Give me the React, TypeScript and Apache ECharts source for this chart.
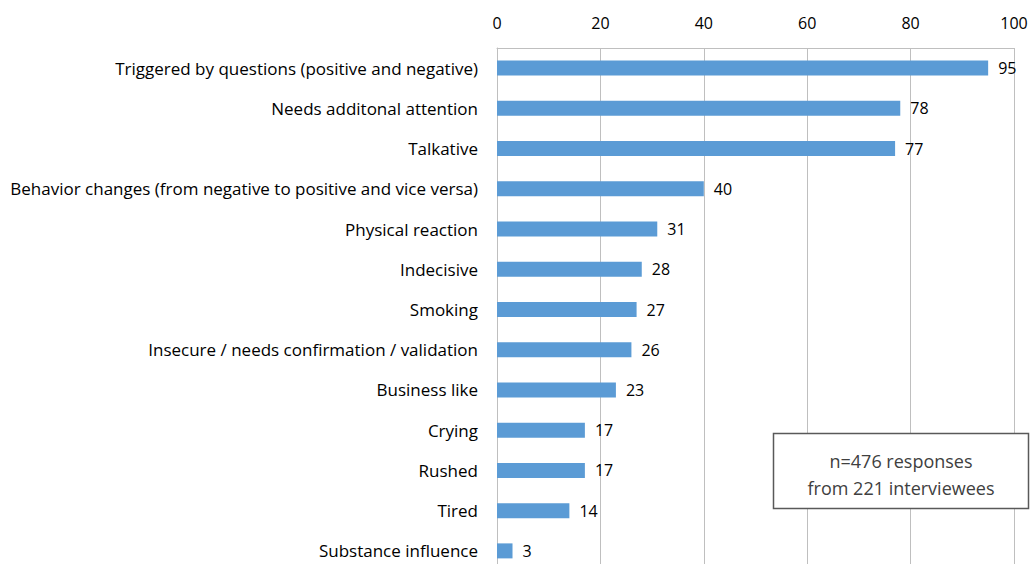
import React, { useEffect, useRef } from "react";
import * as echarts from "echarts";

const categories = [
  "Triggered by questions (positive and negative)",
  "Needs additonal attention",
  "Talkative",
  "Behavior changes (from negative to positive and vice versa)",
  "Physical reaction",
  "Indecisive",
  "Smoking",
  "Insecure / needs confirmation / validation",
  "Business like",
  "Crying",
  "Rushed",
  "Tired",
  "Substance influence",
];
const values = [95, 78, 77, 40, 31, 28, 27, 26, 23, 17, 17, 14, 3];
const noteLines = ["n=476 responses", "from 221 interviewees"];

const FONT = "Open Sans";

export default function App() {
  const ref = useRef<HTMLDivElement>(null);
  useEffect(() => {
    if (!ref.current) return;
    const chart = echarts.init(ref.current, null, { renderer: "svg" });
    chart.setOption({
      animation: false,
      backgroundColor: "#ffffff",
      textStyle: { fontFamily: FONT },
      grid: { left: 497, top: 48, width: 517, height: 523, containLabel: false },
      xAxis: {
        type: "value",
        position: "top",
        min: 0,
        max: 100,
        interval: 20,
        axisLine: { show: true, lineStyle: { color: "#bfbfbf", width: 1 } },
        axisTick: { show: false },
        splitLine: { show: true, lineStyle: { color: "#bfbfbf", width: 1 } },
        axisLabel: { color: "#000", fontSize: 16, fontFamily: FONT, margin: 17 },
      },
      yAxis: {
        type: "category",
        data: categories,
        inverse: true,
        axisLine: { show: true, lineStyle: { color: "#bfbfbf", width: 1 } },
        axisTick: { show: false },
        axisLabel: { color: "#000", fontSize: 17, fontFamily: FONT, margin: 19 },
      },
      series: [
        {
          type: "bar",
          data: values,
          barWidth: 15,
          itemStyle: { color: "#5b9bd5" },
          label: {
            show: true,
            position: "right",
            distance: 10,
            color: "#000",
            fontSize: 16,
            fontFamily: FONT,
          },
        },
      ],
      graphic: [
        {
          type: "rect",
          shape: { x: 773.5, y: 433.5, width: 255, height: 75 },
          style: { fill: "#ffffff", stroke: "#595959", lineWidth: 1.5 },
          z: 100,
        },
        {
          type: "text",
          x: 901,
          y: 474,
          z: 101,
          style: {
            text: noteLines.join("\n"),
            fill: "#404040",
            font: `18px "${FONT}"`,
            align: "center",
            verticalAlign: "middle",
            lineHeight: 27,
          },
        },
      ],
    });
    return () => chart.dispose();
  }, []);
  return (
    <div style={{ position: "absolute", left: 0, top: 0, width: 1031, height: 564, overflow: "hidden" }}>
      <div ref={ref} style={{ width: 1031, height: 574 }} />
    </div>
  );
}
